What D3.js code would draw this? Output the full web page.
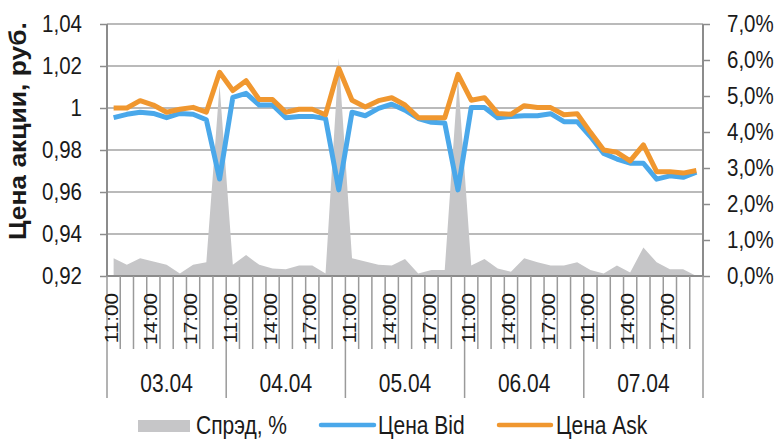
<!DOCTYPE html>
<html>
<head>
<meta charset="utf-8">
<script src="https://cdn.jsdelivr.net/npm/d3@7/dist/d3.min.js"></script>
<style>
  body { margin: 0; background: #fff; }
  svg { display: block; }
  text { fill: #1a1a1a; font-family: "Liberation Sans", Arial, sans-serif; }
</style>
</head>
<body>
<svg id="chart" width="778" height="439"></svg>
<script>
const days = ["03.04", "04.04", "05.04", "06.04", "07.04"];
const hours = ["11:00", "12:00", "13:00", "14:00", "15:00", "16:00", "17:00", "18:00", "19:00"];
const shownHours = ["11:00", "14:00", "17:00"];

const bid = [
  0.9954, 0.997, 0.998, 0.9974, 0.9954, 0.9974, 0.997, 0.9944, 0.9662,
  1.0051, 1.007, 1.0014, 1.0014, 0.9954, 0.996, 0.996, 0.995, 0.961,
  0.998, 0.9963, 0.9998, 1.0018, 0.999, 0.995, 0.9932, 0.9929, 0.961,
  1.0002, 1.0002, 0.9954, 0.996, 0.9963, 0.9963, 0.9973, 0.9935, 0.9935,
  0.9864, 0.9784, 0.9757, 0.9737, 0.9737, 0.9661, 0.9677, 0.967, 0.9694
];
const ask = [
  1.000, 1.000, 1.0035, 1.0014, 0.998, 0.9994, 1.0003, 0.998, 1.017,
  1.0083, 1.013, 1.004, 1.004, 0.998, 0.9994, 0.9994, 0.9968, 1.0189,
  1.0037, 1.0005, 1.0035, 1.0049, 1.0014, 0.9954, 0.9954, 0.9954, 1.016,
  1.0037, 1.0049, 0.9974, 0.997, 1.0011, 1.0002, 1.0002, 0.9968, 0.9973,
  0.9884, 0.980, 0.9789, 0.9748, 0.9824, 0.9697, 0.9697, 0.969, 0.9702
];
const spread = [
  0.49, 0.31, 0.49, 0.40, 0.31, 0.07, 0.31, 0.38, 5.3,
  0.31, 0.58, 0.31, 0.21, 0.19, 0.29, 0.29, 0.07, 6.05,
  0.49, 0.40, 0.31, 0.29, 0.47, 0.07, 0.17, 0.17, 5.5,
  0.29, 0.47, 0.21, 0.12, 0.49, 0.38, 0.29, 0.29, 0.38,
  0.17, 0.07, 0.29, 0.10, 0.79, 0.38, 0.19, 0.19, 0.0
];
const priceTicks = [0.92, 0.94, 0.96, 0.98, 1.00, 1.02, 1.04];
const spreadTicks = [0, 1, 2, 3, 4, 5, 6, 7];

const STRETCH = 1.2; // the source text is drawn tall and narrow

const svg = d3.select('#chart');
const m = { left: 107, right: 703, top: 24, bottom: 276 };

// one category per hour of each day
const cats = [];
days.forEach(d => hours.forEach(h => cats.push({ day: d, hour: h, key: d + ' ' + h })));

const x = d3.scaleBand().domain(cats.map(c => c.key)).range([m.left, m.right]).padding(0);
const cx = i => x(cats[i].key) + x.bandwidth() / 2;
const y = d3.scaleLinear().domain([0.92, 1.04]).range([m.bottom, m.top]);
const y2 = d3.scaleLinear().domain([0, 7]).range([m.bottom, m.top]);

// place horizontal text, stretched upward from its baseline
function tall(sel, tx, ty) {
  return sel.attr('x', 0).attr('y', 0)
    .attr('transform', `translate(${tx},${ty}) scale(1,${STRETCH})`);
}

// gridlines
svg.append('g').selectAll('line')
  .data(priceTicks)
  .enter().append('line')
  .attr('x1', m.left).attr('x2', m.right)
  .attr('y1', d => y(d)).attr('y2', d => y(d))
  .attr('stroke', '#a3a3a3').attr('stroke-width', 1.5);

// spread area
svg.append('path')
  .datum(spread)
  .attr('fill', '#c6c6c8')
  .attr('d', d3.area().x((d, i) => cx(i)).y0(y2(0)).y1(d => y2(d)));

// left axis
const fmtPrice = d => d === 1 ? '1' : d3.format('.2f')(d).replace('.', ',');
const gl = svg.append('g')
  .attr('transform', `translate(${m.left},0)`)
  .call(d3.axisLeft(y).tickValues(priceTicks).tickSize(7).tickFormat(fmtPrice));

// right axis
const gr = svg.append('g')
  .attr('transform', `translate(${m.right},0)`)
  .call(d3.axisRight(y2).tickValues(spreadTicks).tickSize(7)
    .tickFormat(d => d3.format('.1f')(d).replace('.', ',') + '%'));

[gl, gr].forEach(g => {
  g.select('.domain').attr('stroke', '#8c8c8c').attr('stroke-width', 2)
    .attr('d', `M0,${m.top}V${m.bottom}`);
  g.selectAll('.tick line').attr('stroke', '#8c8c8c').attr('stroke-width', 1.5);
  g.selectAll('.tick text')
    .attr('font-family', null).attr('font-size', 20.5).attr('fill', '#1a1a1a').attr('dy', null);
});
gl.selectAll('.tick text').each(function () { tall(d3.select(this), -25, 7); });
gr.selectAll('.tick text').each(function () { tall(d3.select(this), 24, 7); });
svg.selectAll('.tick text').attr('font-family', '"Liberation Sans", Arial, sans-serif');

// category axis
const xa = svg.append('g');
xa.append('line')
  .attr('x1', m.left).attr('x2', m.right).attr('y1', m.bottom).attr('y2', m.bottom)
  .attr('stroke', '#8c8c8c').attr('stroke-width', 2);
const bounds = d3.range(cats.length + 1);
xa.selectAll('line.tk')
  .data(bounds)
  .enter().append('line')
  .attr('class', 'tk')
  .attr('x1', i => m.left + i * x.bandwidth()).attr('x2', i => m.left + i * x.bandwidth())
  .attr('y1', m.bottom)
  .attr('y2', i => i % hours.length === 0 ? 398 : 349)
  .attr('stroke', '#9a9a9a').attr('stroke-width', 1.5);

xa.selectAll('text.hr')
  .data(cats.map((c, i) => ({ c, i })).filter(d => shownHours.includes(d.c.hour)))
  .enter().append('text')
  .attr('class', 'hr')
  .attr('transform', d => `translate(${cx(d.i)},293) rotate(-90) scale(1.12,1)`)
  .attr('dy', '0.22em')
  .attr('text-anchor', 'end')
  .attr('font-size', 18.5)
  .text(d => d.c.hour);

xa.selectAll('text.day')
  .data(days)
  .enter().append('text')
  .attr('class', 'day')
  .attr('text-anchor', 'middle')
  .attr('font-size', 21)
  .text(d => d)
  .each(function (d, k) {
    tall(d3.select(this), m.left + (k + 0.5) * hours.length * x.bandwidth(), 392);
  });

// price lines
const line = d3.line().x((d, i) => cx(i)).y(d => y(d));
svg.append('path').datum(bid)
  .attr('fill', 'none').attr('stroke', '#4aa8ea').attr('stroke-width', 5)
  .attr('stroke-linejoin', 'round').attr('d', line);
svg.append('path').datum(ask)
  .attr('fill', 'none').attr('stroke', '#f0972f').attr('stroke-width', 5)
  .attr('stroke-linejoin', 'round').attr('d', line);

// y title
svg.append('text')
  .attr('transform', 'translate(18,131) rotate(-90) scale(1.15,1)')
  .attr('dy', '0.35em')
  .attr('text-anchor', 'middle')
  .attr('font-weight', 'bold').attr('font-size', 23)
  .text('Цена акции, руб.');

// legend
const lg = svg.append('g').attr('font-size', 21);
lg.append('rect').attr('x', 138).attr('y', 420).attr('width', 52).attr('height', 12).attr('fill', '#c6c6c8');
tall(lg.append('text').attr('font-size', 21).text('Спрэд, %'), 196, 434);
lg.append('line').attr('x1', 321).attr('x2', 374).attr('y1', 425).attr('y2', 425)
  .attr('stroke', '#4aa8ea').attr('stroke-width', 4.5).attr('stroke-linecap', 'round');
tall(lg.append('text').attr('font-size', 21).text('Цена Bid'), 378, 434);
lg.append('line').attr('x1', 499).attr('x2', 551).attr('y1', 425).attr('y2', 425)
  .attr('stroke', '#f0972f').attr('stroke-width', 4.5).attr('stroke-linecap', 'round');
tall(lg.append('text').attr('font-size', 21).text('Цена Ask'), 556, 434);
</script>
</body>
</html>
